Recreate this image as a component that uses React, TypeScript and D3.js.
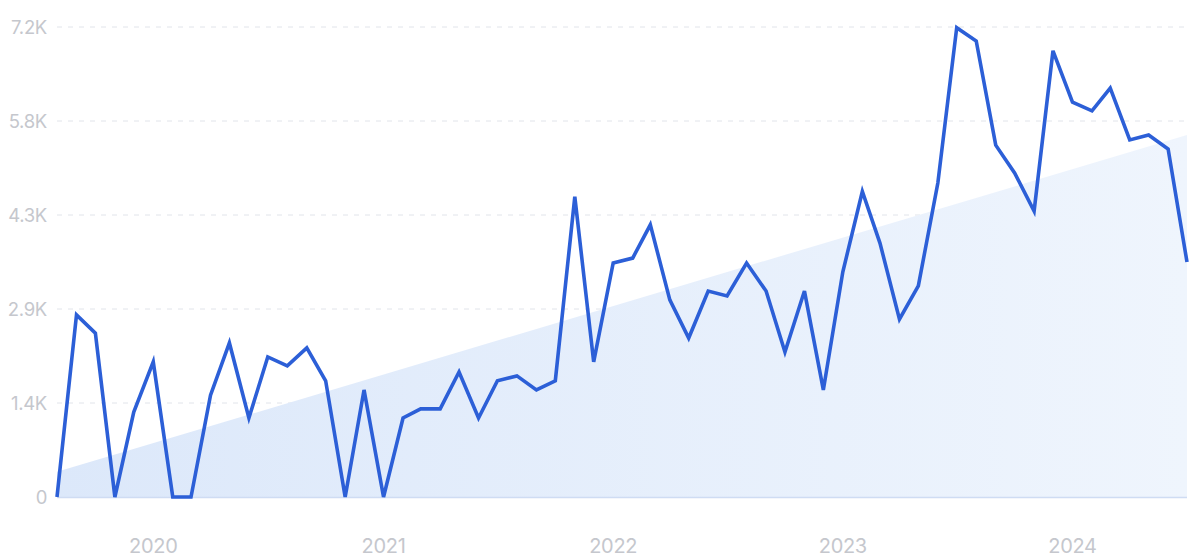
import React from "react";
import * as d3 from "d3";

const values: number[] = [
  0, 2790, 2510, 0, 1300, 2070, 0, 0, 1560, 2360, 1210, 2145,
  2010, 2285, 1780, 0, 1640, 0, 1210, 1350, 1350, 1915, 1210, 1780,
  1855, 1640, 1780, 4600, 2070, 3585, 3660, 4170, 3020, 2435, 3155, 3080,
  3585, 3155, 2220, 3155, 1640, 3450, 4680, 3890, 2725, 3235, 4810, 7190,
  6985, 5390, 4965, 4380, 6835, 6050, 5915, 6265, 5470, 5545, 5330, 3600,
];
const startMonth = new Date(2019, 7, 1);
const trendValues: number[] = [385, 5545];
const yTicks: number[] = [0, 1440, 2880, 4320, 5760, 7200];
const yTickLabels: string[] = ["0", "1.4K", "2.9K", "4.3K", "5.8K", "7.2K"];
const yearTicks: number[] = [2020, 2021, 2022, 2023, 2024];

const W = 1200;
const H = 560;
const left = 57;
const right = 1187;
const top = 27;
const bottom = 497;

export default function App() {
  const dates = values.map((_, i) => d3.timeMonth.offset(startMonth, i));
  const x = d3
    .scaleTime()
    .domain([dates[0], dates[dates.length - 1]])
    .range([left, right]);
  const y = d3.scaleLinear().domain([0, 7200]).range([bottom, top]);

  const line = d3
    .line<number>()
    .x((_, i) => x(dates[i]))
    .y((d) => y(d));

  const trendDates = [dates[0], dates[dates.length - 1]];
  const area = d3
    .area<number>()
    .x((_, i) => x(trendDates[i]))
    .y0(y(0))
    .y1((d) => y(d));

  return (
    <svg
      width={W}
      height={H}
      style={{ position: "absolute", left: 0, top: 0, background: "#fff" }}
      fontFamily="Inter, 'Noto Sans', sans-serif"
    >
      <defs>
        <linearGradient id="trendFill" x1="0" y1="0" x2="1" y2="0">
          <stop offset="0" stopColor="#dce8fa" />
          <stop offset="1" stopColor="#eff5fd" />
        </linearGradient>
      </defs>
      {yTicks.map((t, i) =>
        i === 0 ? null : (
          <line
            key={"g" + t}
            x1={left}
            x2={right}
            y1={y(t)}
            y2={y(t)}
            stroke="#e1e4ea"
            strokeWidth={1}
            strokeDasharray="5,6"
          />
        )
      )}
      <path d={area(trendValues) || ""} fill="url(#trendFill)" />
      <line
        x1={left}
        x2={right}
        y1={y(0) + 0.5}
        y2={y(0) + 0.5}
        stroke="#cfdcf3"
        strokeWidth={1.5}
      />
      {yTicks.map((t, i) => (
        <text
          key={"yl" + t}
          x={47}
          y={y(t)}
          dy="0.36em"
          textAnchor="end"
          fontSize={18.5}
          fill="#c5c7cd"
          letterSpacing={-0.3}
        >
          {yTickLabels[i]}
        </text>
      ))}
      {yearTicks.map((yr) => (
        <text
          key={"x" + yr}
          x={x(new Date(yr, 0, 1))}
          y={546}
          dy="0.36em"
          textAnchor="middle"
          fontSize={20}
          fill="#c5c7cd"
          letterSpacing={-0.3}
        >
          {yr}
        </text>
      ))}
      <path
        d={line(values) || ""}
        fill="none"
        stroke="#2c5fd7"
        strokeWidth={3.6}
        strokeLinejoin="miter"
      />
    </svg>
  );
}
